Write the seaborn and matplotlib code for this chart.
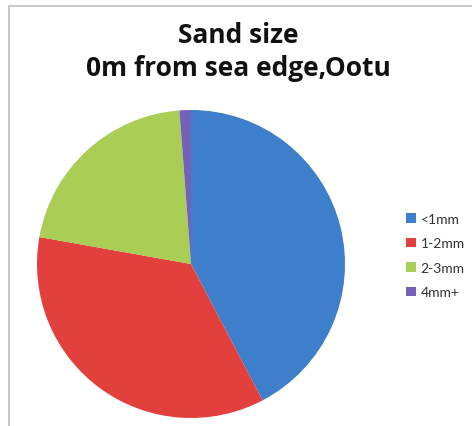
import matplotlib
matplotlib.use("Agg")
import matplotlib.pyplot as plt
import seaborn as sns
from matplotlib.patches import Patch, Rectangle

# -----------------------------
# Data
# -----------------------------
sizes = ["<1mm", "1-2mm", "2-3mm", "4mm+"]
shares = [42.3, 35.5, 21.0, 1.2]
colors = sns.color_palette(["#3d7fcb", "#e2403d", "#a9cd55", "#7462b8"])

title_line1 = "Sand size"
title_line2 = "0m from sea edge,Ootu"

sns.set_theme(style="white")
plt.rcParams["font.family"] = ["Lato", "DejaVu Sans"]

fig = plt.figure(figsize=(4.72, 4.27), dpi=100)
fig.patch.set_facecolor("white")

# pie area
ax = fig.add_axes([37 / 472, 8 / 427, 308 / 472, 308 / 427])
ax.pie(shares, colors=colors, startangle=90, counterclock=False,
       wedgeprops=dict(linewidth=0))
ax.set_xlim(-1, 1)
ax.set_ylim(-1, 1)
ax.set_aspect("equal")
ax.axis("off")

# title
for txt, yb in [(title_line1, 43), (title_line2, 76)]:
    fig.text(238 / 472, 1 - yb / 427, txt, ha="center", va="baseline",
             fontsize=19, fontweight="bold", color="#111111",
             family=["Open Sans", "DejaVu Sans"])

# legend
handles = [Patch(facecolor=c, edgecolor="none", label=l) for c, l in zip(colors, sizes)]
fig.legend(handles=handles, loc="center left", bbox_to_anchor=(406 / 472, 1 - 256.5 / 427),
           frameon=False, fontsize=10, handlelength=0.7, handleheight=0.7,
           handletextpad=0.35, labelspacing=0.9, borderaxespad=0, borderpad=0,
           labelcolor="#333333")

# chart area border (top and left edges visible)
fig.add_artist(Rectangle((9 / 472, -0.1), 1.2, 1.1 - 7 / 427, transform=fig.transFigure,
                         fill=False, edgecolor="#bdbdbd", linewidth=1.2))

fig.savefig("out.png", dpi=100)
